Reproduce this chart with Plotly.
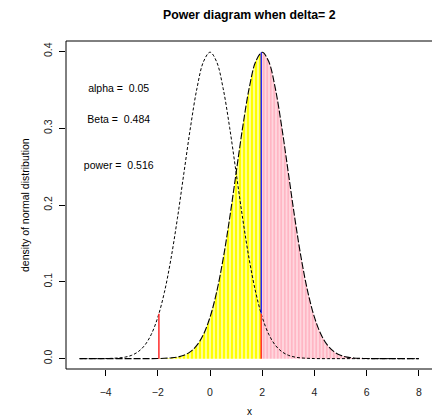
import plotly.graph_objects as go

# x grid (step 0.25) for both density curves
x_grid = [-5.0, -4.75, -4.5, -4.25, -4.0, -3.75, -3.5, -3.25, -3.0, -2.75, -2.5, -2.25,
          -2.0, -1.75, -1.5, -1.25, -1.0, -0.75, -0.5, -0.25, 0.0, 0.25, 0.5, 0.75,
          1.0, 1.25, 1.5, 1.75, 2.0, 2.25, 2.5, 2.75, 3.0, 3.25, 3.5, 3.75, 4.0,
          4.25, 4.5, 4.75, 5.0, 5.25, 5.5, 5.75, 6.0, 6.25, 6.5, 6.75, 7.0, 7.25,
          7.5, 7.75, 8.0]

# null distribution density (mean 0)
null_density = [0.0, 0.0, 0.0, 0.0, 0.0001, 0.0004, 0.0009, 0.0020, 0.0044, 0.0091, 0.0175, 0.0317,
                0.0540, 0.0863, 0.1295, 0.1826, 0.2420, 0.3011, 0.3521, 0.3867, 0.3989, 0.3867, 0.3521, 0.3011,
                0.2420, 0.1826, 0.1295, 0.0863, 0.0540, 0.0317, 0.0175, 0.0091, 0.0044, 0.0020, 0.0009, 0.0004, 0.0001,
                0.0, 0.0, 0.0, 0.0, 0.0, 0.0, 0.0, 0.0, 0.0, 0.0, 0.0, 0.0, 0.0,
                0.0, 0.0, 0.0]

# alternative distribution density (mean = delta = 2)
alt_density = [0.0, 0.0, 0.0, 0.0, 0.0, 0.0, 0.0, 0.0, 0.0, 0.0, 0.0, 0.0,
               0.0001, 0.0004, 0.0009, 0.0020, 0.0044, 0.0091, 0.0175, 0.0317, 0.0540, 0.0863, 0.1295, 0.1826,
               0.2420, 0.3011, 0.3521, 0.3867, 0.3989, 0.3867, 0.3521, 0.3011, 0.2420, 0.1826, 0.1295, 0.0863, 0.0540,
               0.0317, 0.0175, 0.0091, 0.0044, 0.0020, 0.0009, 0.0004, 0.0001, 0.0, 0.0, 0.0, 0.0, 0.0,
               0.0, 0.0, 0.0]

# critical values and heights at them
crit_low = -1.96
crit_high = 1.96
null_at_crit = 0.0584
alt_at_crit_low = 0.0002
alt_at_crit_high = 0.3986

labels = ["alpha =  0.05", "Beta =  0.484", "power =  0.516"]
label_x = [-3.5, -3.5, -3.5]
label_y = [0.35, 0.31, 0.25]

x_ticks = [-4, -2, 0, 2, 4, 6, 8]
y_ticks = [0.0, 0.1, 0.2, 0.3, 0.4]
y_ticktext = ["0.0", "0.1", "0.2", "0.3", "0.4"]

FONT = "Liberation Sans, Arial, Helvetica, sans-serif"

# regions (selected from the grid, bounded at the critical value)
beta_x = [crit_low] + [x for x in x_grid if crit_low < x < crit_high] + [crit_high]
beta_y = [alt_at_crit_low] + [y for x, y in zip(x_grid, alt_density) if crit_low < x < crit_high] + [alt_at_crit_high]
pow_x = [crit_high] + [x for x in x_grid if x > crit_high]
pow_y = [alt_at_crit_high] + [y for x, y in zip(x_grid, alt_density) if x > crit_high]

fig = go.Figure()

fig.add_trace(go.Scatter(
    x=beta_x, y=beta_y, mode="lines", line=dict(width=0, shape="spline"),
    fill="tozeroy", fillcolor="#ffff00",
    fillpattern=dict(shape="|", size=4, solidity=0.72, fgcolor="#ffff00", bgcolor="white", fillmode="replace"),
    hoverinfo="skip", showlegend=False))
fig.add_trace(go.Scatter(
    x=pow_x, y=pow_y, mode="lines", line=dict(width=0, shape="spline"),
    fill="tozeroy", fillcolor="#ffc0cb",
    fillpattern=dict(shape="|", size=3.5, solidity=0.78, fgcolor="#ffb6c4", bgcolor="white", fillmode="replace"),
    hoverinfo="skip", showlegend=False))

fig.add_trace(go.Scatter(
    x=x_grid, y=null_density, mode="lines",
    line=dict(color="black", width=1, dash="3px,2px", shape="spline"),
    showlegend=False))
fig.add_trace(go.Scatter(
    x=x_grid, y=alt_density, mode="lines",
    line=dict(color="black", width=1.1, dash="7px,2px", shape="spline"),
    showlegend=False))

# vertical markers at the critical values
fig.add_trace(go.Scatter(
    x=[crit_high, crit_high], y=[null_at_crit, alt_at_crit_high], mode="lines",
    line=dict(color="#0000ff", width=1.3), showlegend=False))
fig.add_trace(go.Scatter(
    x=[crit_low, crit_low, None, crit_high, crit_high], y=[0, null_at_crit, None, 0, null_at_crit], mode="lines",
    line=dict(color="#ff2a2a", width=1.5), showlegend=False))

fig.add_trace(go.Scatter(
    x=label_x, y=label_y, mode="text", text=labels,
    textfont=dict(family=FONT, size=10.5, color="black"), showlegend=False))

fig.update_layout(
    width=432, height=417,
    margin=dict(l=66, r=0, t=41, b=48),
    paper_bgcolor="white", plot_bgcolor="white",
    font=dict(family=FONT, size=10.5, color="black"),
    showlegend=False,
    xaxis=dict(range=[-5.52, 8.506], tickvals=x_ticks, ticks="outside", ticklen=6,
               tickcolor="black", showgrid=False, zeroline=False, showline=False, automargin=False,
               ticklabelstandoff=7, tickfont=dict(size=10.5, color="#222")),
    yaxis=dict(range=[-0.0135, 0.4135], tickvals=y_ticks, ticktext=y_ticktext, ticks="outside",
               ticklen=6, tickcolor="black", showgrid=False, zeroline=False, showline=False, automargin=False,
               tickangle=-90, ticklabelstandoff=3, tickfont=dict(size=10.5, color="#222")),
    shapes=[
        dict(type="line", xref="paper", yref="paper", x0=0, x1=0, y0=0, y1=1, line=dict(color="black", width=1)),
        dict(type="line", xref="paper", yref="paper", x0=0, x1=1.05, y0=1, y1=1, line=dict(color="black", width=1)),
        dict(type="line", xref="paper", yref="paper", x0=0, x1=1.05, y0=0, y1=0, line=dict(color="black", width=1)),
    ],
    annotations=[
        dict(text="<b>Power diagram when delta= 2</b>", xref="paper", yref="paper", x=0.5, y=1,
             xanchor="center", yanchor="middle", yshift=26, showarrow=False, font=dict(size=12.3, family=FONT)),
        dict(text="x", xref="paper", yref="paper", x=0.5, y=0, xanchor="center", yanchor="middle",
             yshift=-42, showarrow=False, font=dict(size=10, family=FONT)),
        dict(text="density of normal distribution", xref="paper", yref="paper", x=0, y=0.5,
             xanchor="center", yanchor="middle", xshift=-41, textangle=-90, showarrow=False,
             font=dict(size=10.5, family=FONT)),
    ],
)

fig.write_html("out.html", config={"displayModeBar": False},
               post_script="document.body.style.margin='0';document.body.style.overflow='hidden';")
